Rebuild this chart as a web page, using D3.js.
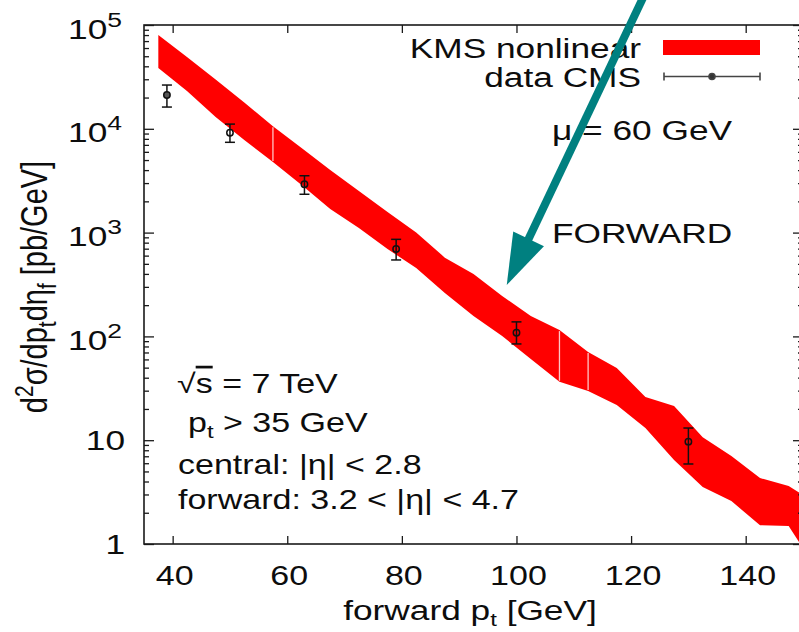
<!DOCTYPE html>
<html><head><meta charset="utf-8">
<script src="https://cdn.jsdelivr.net/npm/d3@7"></script>
<style>
body{margin:0;background:#fff}
svg{display:block}
text{font-family:"Liberation Sans",Arial,Helvetica,sans-serif;fill:#0d0d0d}
</style>
</head><body>
<svg id="c" width="799" height="632"></svg>
<script>
// ---- data ----
const bandPt    = [37.5,42.5,47.5,52.5,57.5,62.5,67.5,72.5,77.5,82.5,87.5,92.5,97.5,102.5,107.5,112.5,117.5,122.5,127.5,132.5,137.5,142.5,147.5,150];
const bandUpper = [80000,49200,29900,17900,10600,6530,4010,2520,1580,1005,574,399,245,157,115,70.8,49.7,26.1,21.3,10.7,7.04,4.32,3.62,2.97];
const bandLower = [38500,23100,13000,7800,4790,2870,1690,1110,695,456,262,157,101,60.6,36.6,29.8,21.8,13.1,6.44,3.54,2.59,1.52,1.49,0.91];
const seamPt    = [57.5,107.5,112.5];

const cmsPt  = [39,50,63,79,100,130];
const cmsVal = [21200,9170,2920,695,108.6,9.68];
const cmsLo  = [16200,7410,2340,545,84.6,5.90];
const cmsHi  = [26400,11100,3530,861,138,13.1];

const xTicks = [40,60,80,100,120,140];
const yTicks = [1,10,100,1000,10000,100000];
const yTickBase = ["1","10","10","10","10","10"];
const yTickExp  = ["","","2","3","4","5"];

const arrowFrom = [124.5, 3.5e5];
const arrowTo   = [98.3, 313];

// ---- layout ----
const SX = 1.26; // horizontal stretch of the glyphs
const svg = d3.select("#c");
const x = d3.scaleLinear().domain([35,150]).range([144,803]);
const y = d3.scaleLog().domain([1,1e5]).range([544,25]);
const axisColor = "#1a1a1a";

svg.append("defs").append("clipPath").attr("id","plotclip")
  .append("rect").attr("x",144).attr("y",25).attr("width",659).attr("height",519);

const plot = svg.append("g").attr("clip-path","url(#plotclip)");

// band
const band = bandPt.map((p,i)=>({p, lo:bandLower[i], hi:bandUpper[i]}));
const area = d3.area().x(d=>x(d.p)).y0(d=>y(d.lo)).y1(d=>y(d.hi));
plot.append("path").datum(band).attr("d",area).attr("fill","#ff0000").attr("stroke","none");
// seams between filled segments
plot.selectAll("line.seam").data(seamPt).join("line").attr("class","seam")
  .attr("x1",d=>x(d)).attr("x2",d=>x(d))
  .attr("y1",d=>y(bandLower[bandPt.indexOf(d)])-1)
  .attr("y2",d=>y(bandUpper[bandPt.indexOf(d)])+1)
  .attr("stroke","#ffc4c4").attr("stroke-width",1.3);

// CMS data
const cms = cmsPt.map((p,i)=>({p, v:cmsVal[i], lo:cmsLo[i], hi:cmsHi[i]}));
const eg = plot.append("g").attr("stroke","#111").attr("stroke-width",1.5).attr("fill","none");
cms.forEach((d,i)=>{
  const cx = x(d.p);
  eg.append("line").attr("x1",cx).attr("x2",cx).attr("y1",y(d.lo)).attr("y2",y(d.hi));
  eg.append("line").attr("x1",cx-5).attr("x2",cx+5).attr("y1",y(d.lo)).attr("y2",y(d.lo));
  eg.append("line").attr("x1",cx-5).attr("x2",cx+5).attr("y1",y(d.hi)).attr("y2",y(d.hi));
  eg.append("circle").attr("cx",cx).attr("cy",y(d.v)).attr("r",3.2)
    .attr("fill", i===0 ? "#555" : "none");
});

// ---- axes (gnuplot style: inward ticks on all sides) ----
const minor = [];
for (let e=0;e<5;e++) for (let m=2;m<=9;m++) minor.push(m*Math.pow(10,e));
function styleAxis(g){
  g.select(".domain").remove();
  g.selectAll("line").attr("stroke",axisColor).attr("stroke-width",1.3);
  g.selectAll("text").remove();
}
svg.append("g").attr("transform","translate(0,544)").call(d3.axisBottom(x).tickValues(xTicks).tickSize(-8).tickFormat("")).call(styleAxis);
svg.append("g").attr("transform","translate(0,25)").call(d3.axisTop(x).tickValues(xTicks).tickSize(-8).tickFormat("")).call(styleAxis);
svg.append("g").attr("transform","translate(144,0)").call(d3.axisLeft(y).tickValues(yTicks).tickSize(-10).tickFormat("")).call(styleAxis);
svg.append("g").attr("transform","translate(144,0)").call(d3.axisLeft(y).tickValues(minor).tickSize(-5).tickFormat("")).call(styleAxis);
svg.append("g").attr("transform","translate(803,0)").call(d3.axisRight(y).tickValues(yTicks).tickSize(-10).tickFormat("")).call(styleAxis);
svg.append("g").attr("transform","translate(803,0)").call(d3.axisRight(y).tickValues(minor).tickSize(-5).tickFormat("")).call(styleAxis);
svg.append("rect").attr("x",144).attr("y",25).attr("width",659).attr("height",519)
  .attr("fill","none").attr("stroke",axisColor).attr("stroke-width",1.6);

// ---- text helpers ----
function stext(px,py,anchor,size){
  return svg.append("text").attr("transform",`translate(${px},${py}) scale(${SX},1)`)
    .attr("text-anchor",anchor).style("font-size",size+"px");
}

// x tick labels
xTicks.forEach(v=>{ stext(x(v)+2,585,"middle",27).text(v); });

// y tick labels
yTicks.forEach((v,i)=>{
  if (yTickExp[i]) {
    const t = stext(122, y(v)+13.5, "end", 28);
    t.append("tspan").text(yTickBase[i]);
    t.append("tspan").attr("dy",-12).style("font-size","21px").text(yTickExp[i]);
  } else {
    stext(125, y(v)+10, "end", 28).text(yTickBase[i]);
  }
});

// axis titles
const xt = stext(470,620,"middle",28);
xt.append("tspan").text("forward p");
xt.append("tspan").attr("dy",6).style("font-size","19px").text("t");
xt.append("tspan").attr("dy",-6).text(" [GeV]");

const yt = svg.append("text").attr("transform",`translate(47,287) rotate(-90) scale(1,${SX})`)
  .attr("text-anchor","middle").style("font-size","29px");
yt.append("tspan").text("d");
yt.append("tspan").attr("dy",-11).style("font-size","21px").text("2");
yt.append("tspan").attr("dy",11).text("σ/dp");
yt.append("tspan").attr("dy",7).style("font-size","21px").text("t");
yt.append("tspan").attr("dy",-7).text("dη");
yt.append("tspan").attr("dy",7).style("font-size","21px").text("f");
yt.append("tspan").attr("dy",-7).text(" [pb/GeV]");

// legend
stext(641,58,"end",28).text("KMS nonlinear");
svg.append("rect").attr("x",663).attr("y",40).attr("width",97).attr("height",15).attr("fill","#ff0000");
stext(641,87,"end",28).text("data CMS");
const lg = svg.append("g").attr("stroke","#444").attr("stroke-width",1.6);
lg.append("line").attr("x1",664).attr("x2",760).attr("y1",76.5).attr("y2",76.5);
lg.append("line").attr("x1",664).attr("x2",664).attr("y1",72.5).attr("y2",80.5);
lg.append("line").attr("x1",760).attr("x2",760).attr("y1",72.5).attr("y2",80.5);
lg.append("circle").attr("cx",712).attr("cy",76.5).attr("r",3).attr("fill","#333");

// annotations
stext(552,140,"start",28).text("μ = 60 GeV");
stext(552,243,"start",28).text("FORWARD");

const s1 = stext(177,393,"start",27);
s1.append("tspan").text("√");
s1.append("tspan").style("text-decoration","overline").text("s");
s1.append("tspan").text(" = 7 TeV");
const s2 = stext(188,432,"start",27);
s2.append("tspan").text("p");
s2.append("tspan").attr("dy",6).style("font-size","19px").text("t");
s2.append("tspan").attr("dy",-6).text(" > 35 GeV");
stext(178,474,"start",27).text("central: |η| < 2.8");
stext(178,509,"start",27).text("forward: 3.2 < |η| < 4.7");

// teal arrow
const p0 = [x(arrowFrom[0]), y(arrowFrom[1])];
const p1 = [x(arrowTo[0]), y(arrowTo[1])];
const dx = p1[0]-p0[0], dy = p1[1]-p0[1], L = Math.hypot(dx,dy);
const ux = dx/L, uy = dy/L;
const headL = 51, headW = 17;
const bx = p1[0]-ux*headL, by = p1[1]-uy*headL;
svg.append("line").attr("x1",p0[0]).attr("y1",p0[1]).attr("x2",p1[0]-ux*(headL-4)).attr("y2",p1[1]-uy*(headL-4))
  .attr("stroke","#008080").attr("stroke-width",8);
svg.append("path").attr("d",`M${p1[0]},${p1[1]} L${bx-uy*headW},${by+ux*headW} L${bx+uy*headW},${by-ux*headW} Z`)
  .attr("fill","#008080");
</script>
</body></html>
